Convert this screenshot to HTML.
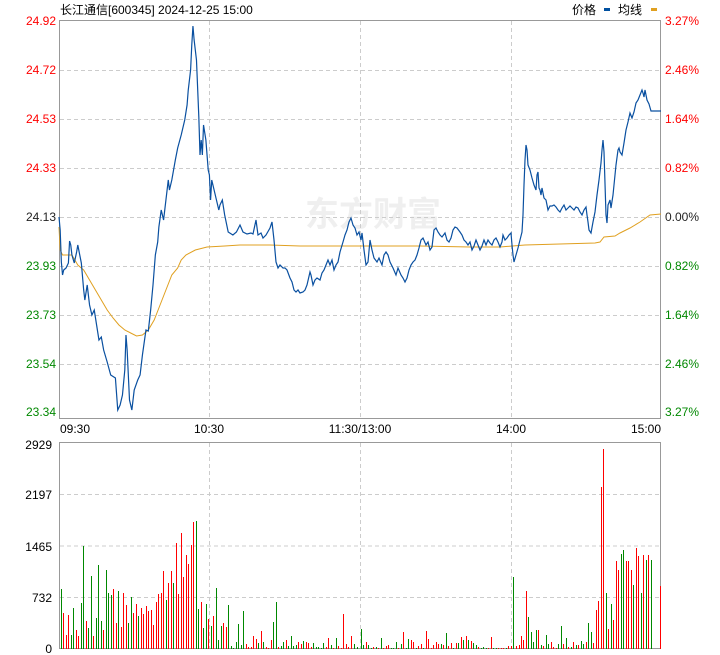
<!DOCTYPE html>
<html><head><meta charset="utf-8"><style>
html,body{margin:0;padding:0;background:#fff;}
svg{display:block;}
text{font-family:"Liberation Sans","Noto Sans CJK SC",sans-serif;font-size:12px;}
</style></head><body>
<svg id="s" width="720" height="655" xmlns="http://www.w3.org/2000/svg">
<text x="60" y="14" fill="#000">长江通信[600345] 2024-12-25 15:00</text>
<text x="572" y="14" fill="#000">价格</text>
<rect x="604" y="8" width="6" height="3" fill="#0050a0"/>
<text x="618" y="14" fill="#000">均线</text>
<rect x="651" y="8" width="6" height="3" fill="#e0a020"/>
<text x="305" y="226" fill="#efefef" font-weight="bold" style="font-size:34px">东方财富</text>
<g id="grid" stroke="#ccc" stroke-dasharray="4,3" stroke-width="1"></g>
<rect x="59.5" y="20.5" width="601" height="398" fill="none" stroke="#999"/>
<rect x="59.5" y="442.5" width="601" height="206" fill="none" stroke="#999"/>
<g id="vol"></g>
<polyline id="avg" fill="none" stroke="#e0a020" stroke-width="1"/>
<polyline id="pr" fill="none" stroke="#0a50a0" stroke-width="1.2"/>
<g id="lbl"></g>
</svg>
<script>
var s=document.getElementById('s'),NS='http://www.w3.org/2000/svg';
function el(p,t,a,tx){var e=document.createElementNS(NS,t);for(var k in a)e.setAttribute(k,a[k]);if(tx!==undefined)e.textContent=tx;document.getElementById(p).appendChild(e);return e;}
for(var i=1;i<8;i++){var y=21+49*i+0.5;el('grid','line',{x1:60,x2:660,y1:y,y2:y});}
[209.5,360.5,511.5].forEach(function(x){el('grid','line',{x1:x,x2:x,y1:21,y2:418});el('grid','line',{x1:x,x2:x,y1:443,y2:648});});
[494.5,546,597.5].forEach(function(y){el('grid','line',{x1:60,x2:660,y1:y,y2:y});});
var L=['24.92','24.72','24.53','24.33','24.13','23.93','23.73','23.54','23.34'];
var R=['3.27%','2.46%','1.64%','0.82%','0.00%','0.82%','1.64%','2.46%','3.27%'];
for(var i=0;i<9;i++){var y=21+49*i+4;if(i==8)y=416;var c=i<4?'#f00':(i==4?'#222':'#080');
el('lbl','text',{x:56,y:y,'text-anchor':'end',fill:c},L[i]);el('lbl','text',{x:665,y:y,fill:c},R[i]);}
[['09:30',60,'start'],['10:30',209,'middle'],['11:30/13:00',360,'middle'],['14:00',511,'middle'],['15:00',661,'end']].forEach(function(a){el('lbl','text',{x:a[1],y:433,'text-anchor':a[2],fill:'#000'},a[0]);});
[['2929',449],['2197',499],['1465',551],['732',602],['0',653]].forEach(function(a){el('lbl','text',{x:52,y:a[1],'text-anchor':'end',fill:'#000'},a[0]);});
var P1=[59,217,60,230,61,262,62,275,63,270,65,268,67,263,68,241,69,245,70,255,72,263,74,252,75,245,78,263,80,290,81,300,83,285,85,305,87,315,89,310,91,325,93,340,95,337,97,350,100,362,103,375,107,378,109,410,111,405,113,395,115,370,116,335,117,350,119,400,121,410,123,390,126,380,128,375,130,355,133,330,135,331,137,310,139,285,141,255,143,242,144,227,146,210,148,220,150,200,152,180,153,190,155,180,158,160,160,148,163,135,166,120,168,105,169,90,171,70,172,45,173,26,174,40,176,60,178,117,179,155,180,140,181,155,182,125,184,140,186,170,187,175,188,200,189,180,191,190,193,200,195,210,196,205,198,200,200,215,203,232,207,235,210,232];
var P=[];for(var i=0;i<P1.length;i+=2){P.push(59+(P1[i]-59)*1.175,P1[i+1]);}
P=P.concat([240,225,243,232,247,234,251,233,253,234,256,220,258,235,261,233,263,238,266,235,270,228,272,222,274,240,276,262,278,268,280,265,283,268,285,268,287,270,290,278,292,282,294,290,296,292,298,290,300,293,303,292,305,290,307,285,310,272,311,275,313,285,315,280,317,278,320,280,322,273,324,270,326,265,328,260,330,265,332,260,334,270,336,265,338,262,340,252,343,242,345,235,347,230,349,222,351,218,353,225,355,228,357,235,359,232,361,240,362,233,364,250,366,265,368,262,370,240,372,250,374,258,377,262,379,258,382,265,384,255,386,252,388,255,390,262,393,268,396,275,398,268,401,275,403,278,405,282,407,278,409,270,411,265,413,262,415,260,417,255,419,248,421,240,423,238,426,245,428,242,430,250,432,247,434,230,436,228,438,232,440,235,442,237,445,233,447,240,449,242,451,238,453,230,455,227,457,228,460,232,462,235,464,240,466,242,468,245,470,242,472,250,474,246,476,240,478,245,480,250,482,246,484,240,486,245,488,240,490,243,492,245,494,240,496,238,498,242,500,247,502,242,503,235,505,240,507,238,509,235,511,233,512,245,513,255,514,262,516,255,518,248,520,240,522,232,523,215,524,185,525,160,526,145,527,150,528,165,530,170,532,178,534,185,536,190,537,175,538,172,539,188,540,190,541,195,542,188,544,198,546,200,548,210,550,206,552,206,554,205,556,207,558,210,560,212,562,208,564,205,566,210,568,208,570,206,572,208,574,210,576,207,578,208,580,212,582,215,584,210,586,207,587,215,588,222,589,230,591,233,593,222,595,212,597,195,599,180,601,163,602,150,603,140,604,152,606,215,607,223,608,205,610,200,611,208,613,195,614,185,616,165,618,150,619,148,620,152,622,155,624,143,626,130,628,122,630,113,632,118,634,112,636,103,638,100,640,95,642,90,643,93,644,97,645,90,646,95,647,100,649,104,651,111,661,111]);
var A1=[59,227,60,250,62,255,65,255,70,255,75,265,80,270,85,280,90,290,95,300,100,310,105,318,110,325,115,330,120,333,125,336,130,335,135,330,140,320,145,305,150,290,155,275,160,268,163,260,167,255,175,250,185,247,200,246];
var A=[];for(var i=0;i<A1.length;i+=2){A.push(59+(A1[i]-59)*1.175,A1[i+1]);}
A=A.concat([240,245,270,245,300,246,360,246,420,246,470,247,500,247,525,245,560,244,595,243,600,242,604,237,615,236,620,233,630,228,640,222,650,215,661,214]);
function pts(a){var r=[];for(var i=0;i<a.length;i+=2)r.push(a[i]+','+a[i+1]);return r.join(' ');}
document.getElementById('pr').setAttribute('points',pts(P));
document.getElementById('avg').setAttribute('points',pts(A));
var V=[];
var z2='184 60 g,190 36 r,199 14 r,205 34 r,213 14 g,220 41 g,229 19 r,235 13 r,244 46 g,250 103 g,259 28 r,265 21 g,274 73 g,280 13 r,289 31 g,295 84 g,304 28 g,310 19 r,319 79 g,325 56 g,334 54 g,340 60 r,349 26 r,355 58 g,364 22 r,370 56 r,379 44 r,385 26 g,394 52 g,400 36 r,409 45 r,415 33 g,424 41 r,430 35 r,439 43 r,445 38 r,454 39 r,460 24 r,469 47 r,475 55 r,484 56 r,490 78 r,499 49 g,505 66 r,514 78 r,520 66 g,529 106 r,535 55 r,544 116 r,550 72 r,559 94 r,565 85 r,574 104 r,580 127 r,589 128 g,595 40 g,604 47 r,610 21 g,619 45 g,625 30 r,634 23 g,640 33 r,649 61 g,655 9 g,664 23 g,670 26 r,679 22 r,685 44 g,694 3 g,700 1 g,709 7 g,715 25 g,724 4 g,730 38 g,739 5 r,745 2 r,754 2 r,760 13 r,769 10 r,775 6 g,784 18 r,790 7 g,799 2 r,805 1 r,814 9 r,820 27 g,829 47 g,835 2 r,844 3 g,850 7 g,859 9 r,865 3 g,874 13 g,880 3 g,889 4 g,895 7 r,904 5 r,910 8 g,919 7 r,925 6 r,934 2 r,940 6 g,949 2 g,955 2 g,964 1 g,970 6 g,979 2 r,985 11 r,994 4 g,1000 1 r,1009 11 g,1015 3 r,1024 1 r,1030 35 r,1039 5 r,1045 2 r,1054 13 r,1063 5 g,1072 2 g';
z2.split(',').forEach(function(t){var a=t.split(' ');V.push([+a[0]/3,+a[1],a[2]]);});
var z8='482 20 g,490 4 g,498 7 r,505 4 g,513 1 g,520 2 r,528 2 g,535 1 r,543 11 g,550 1 r,558 3 r,565 4 r,573 1 g,580 1 g,588 7 g,595 1 r,603 5 g,610 17 r,618 1 g,625 10 g,633 9 r,640 7 r,648 1 g,655 3 r,663 5 r,670 1 g,678 18 r,685 10 r,693 1 r,700 4 r,708 7 r,715 5 r,723 5 g,730 4 r,738 16 g,745 3 r,753 6 r,760 1 g,768 6 r,775 6 g,783 12 r,790 9 g,798 13 r,805 9 g,813 8 r,820 6 g,828 4 g,835 2 r,843 1 g,850 2 g,858 1 g,865 1 r,873 12 r,880 1 g,888 1 g,895 1 r,903 1 r,910 1 r,918 1 g,925 3 r,933 3 r';
z8.split(',').forEach(function(t){var a=t.split(' ');V.push([+a[0]/3+200,+a[1],a[2]]);});
var z4='100 72 g,109 3 r,116 4 r,124 13 r,130 9 r,139 58 r,145 32 g,154 17 g,160 7 g,169 19 g,175 19 r,184 4 g,190 3 r,199 14 g,205 5 g,214 7 r,220 2 r,229 1 r,235 5 g,244 23 g,250 5 r,259 11 g,265 2 r,274 2 g,280 7 r,289 4 g,295 4 r,304 8 g,310 5 g,319 7 r,325 26 g,334 17 g,340 6 r,349 39 r,355 48 r,364 162 r,370 200 r,379 56 g,385 20 r,394 45 g,400 29 r,409 88 r,415 79 r,424 95 g,430 99 g,439 88 r,445 88 r,454 79 r,460 64 g,469 101 r,475 93 r,484 56 g,490 94 r,499 89 g,505 94 r,514 89 g,541 63 r';
z4.split(',').forEach(function(t){var a=t.split(' ');V.push([+a[0]/3+480,+a[1],a[2]]);});
V.forEach(function(v){var x=Math.round(v[0]);el('vol','rect',{x:x,y:649-v[1],width:1,height:v[1],fill:v[2]=='r'?'#f00':'#080'});});
</script>
</body></html>
